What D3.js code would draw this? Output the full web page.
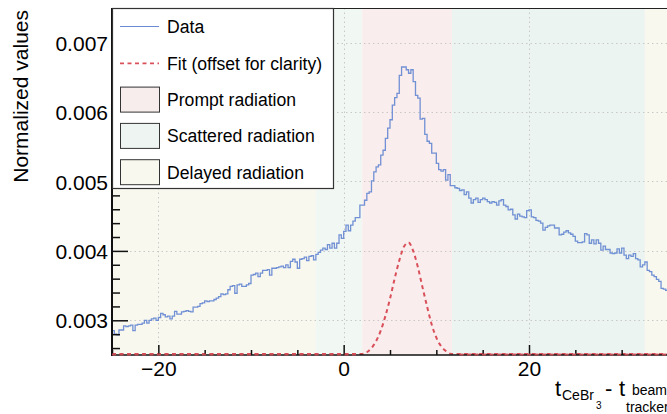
<!DOCTYPE html>
<html><head><meta charset="utf-8">
<script src="https://cdn.jsdelivr.net/npm/d3@7"></script>
<style>body{margin:0;background:#fff} svg{display:block} text{font-family:"Liberation Sans",Arial,Helvetica,sans-serif;fill:#000}</style>
</head><body><svg id="c" width="667" height="414"></svg>
<script>
// ---- data ----
const binLow = -25, binWidth = 0.25;
const counts = [
0.00285,0.00280,0.00279,0.00286,0.00286,0.00292,0.00291,0.00292,0.00293,0.00285,
0.00293,0.00294,0.00294,0.00296,0.00300,0.00296,0.00300,0.00302,0.00303,0.00300,
0.00304,0.00310,0.00308,0.00305,0.00306,0.00302,0.00306,0.00313,0.00309,0.00309,
0.00312,0.00313,0.00314,0.00313,0.00312,0.00319,0.00319,0.00320,0.00324,0.00325,
0.00328,0.00327,0.00328,0.00328,0.00330,0.00332,0.00334,0.00338,
0.00337,0.00338,0.00344,0.00349,0.00350,0.00339,0.00351,0.00352,0.00349,0.00349,
0.00351,0.00353,0.00365,0.00366,0.00368,0.00363,0.00368,0.00372,0.00372,0.00373,
0.00365,0.00375,0.00375,0.00376,0.00377,0.00378,0.00376,0.00380,0.00376,0.00385,
0.00388,0.00384,0.00375,0.00388,0.00389,0.00391,0.00386,0.00392,0.00393,0.00387,
0.00395,0.00398,0.00401,0.00404,0.00402,0.00409,0.00404,0.00411,
0.00404,0.00411,0.00423,0.00418,0.00428,0.00437,0.00429,0.00437,0.00443,0.00448,
0.00448,0.00466,0.00466,0.00473,0.00483,0.00485,0.00501,0.00514,0.00521,0.00524,
0.00538,0.00545,0.00562,0.00577,0.00589,0.00610,0.00621,0.00627,0.00653,0.00665,
0.00665,0.00661,0.00656,0.00661,0.00644,0.00624,0.00620,0.00590,0.00591,0.00568,
0.00558,0.00555,0.00541,0.00541,0.00526,0.00517,0.00515,0.00517,
0.00502,0.00510,0.00494,0.00494,0.00491,0.00490,0.00487,0.00488,0.00481,0.00485,
0.00476,0.00469,0.00474,0.00476,0.00470,0.00474,0.00476,0.00474,0.00471,0.00469,
0.00471,0.00470,0.00466,0.00472,0.00474,0.00466,0.00464,0.00459,0.00460,0.00452,
0.00446,0.00453,0.00450,0.00449,0.00448,0.00458,0.00459,0.00449,0.00448,0.00444,
0.00443,0.00440,0.00430,0.00434,0.00436,0.00437,0.00437,
0.00433,0.00433,0.00423,0.00424,0.00427,0.00429,0.00426,0.00424,0.00421,0.00414,
0.00412,0.00412,0.00413,0.00425,0.00423,0.00411,0.00416,0.00410,0.00416,0.00411,
0.00401,0.00407,0.00402,0.00402,0.00397,0.00396,0.00397,0.00403,0.00397,0.00404,
0.00394,0.00389,0.00394,0.00392,0.00396,0.00389,0.00387,0.00377,0.00380,0.00384,
0.00372,0.00370,0.00365,0.00363,0.00359,0.00356,0.00346,0.00345,0.00343
];
const fitX = [-25,1.5,2,2.5,3,3.5,4,4.5,5,5.5,6,6.5,7,7.5,8,8.5,9,9.5,10,10.5,11,11.5,12,12.5,35];
const fitY = [0.0025,0.00250,0.00251,0.00254,0.00260,0.00270,0.00285,0.00306,0.00331,0.00360,0.00386,0.00406,0.00412,0.00400,0.00377,0.00348,0.00320,0.00294,0.00275,0.00263,0.00256,0.00252,0.00251,0.0025,0.0025];
const regionKind  = ["delayed","scattered","prompt","scattered2","delayed"];
const regionStart = [-25, -3, 2, 11.7, 32.5];
const regionEnd   = [-3, 2, 11.7, 32.5, 35];
const xMajorTicks = [-20, 0, 20];
const xMinorTicks = [-25,-15,-10,-5,5,10,15,25,30,35];
const yMajorTicks = [0.003, 0.004, 0.005, 0.006, 0.007];
const yTickLabels = ["0.003","0.004","0.005","0.006","0.007"];
const yMinorTicks = [0.0026,0.0028,0.0032,0.0034,0.0036,0.0038,0.0042,0.0044,0.0046,0.0048,0.0052,0.0054,0.0056,0.0058,0.0062,0.0064,0.0066,0.0068,0.0072,0.0074];
const legendLabels = ["Data","Fit (offset for clarity)","Prompt radiation","Scattered radiation","Delayed radiation"];
const legendKinds  = ["line","dash","prompt","scattered","delayed"];

// ---- styles ----
const fills = {delayed:"#f8f8ef", scattered:"#f1f7f3", scattered2:"#ebf4f0", prompt:"#f9eded"};
const legendFills = {prompt:"#f8eded", scattered:"#eef4f1", delayed:"#f8f8ef"};
const dataColor = "#6a8bd3", fitColor = "#d9505a";

const svg = d3.select("#c");
const L = 112, R = 668, T = 8, B = 355;
const x = d3.scaleLinear().domain([-25, 35]).range([L, R]);
const y = d3.scaleLinear().domain([0.0025, 0.0075]).range([B, T]);

svg.append("defs").append("clipPath").attr("id","clip")
  .append("rect").attr("x",L).attr("y",T).attr("width",R-L).attr("height",B-T);
const plot = svg.append("g").attr("clip-path","url(#clip)");

// bands
plot.selectAll("rect.band").data(regionKind).join("rect").attr("class","band")
  .attr("x",(d,i)=>x(regionStart[i])).attr("width",(d,i)=>x(regionEnd[i])-x(regionStart[i]))
  .attr("y",T).attr("height",B-T).attr("fill",d=>fills[d]);

// grid
const gridStyle = g => g.attr("stroke","#c8c8c8").attr("stroke-width",1).attr("stroke-dasharray","1.5,3");
plot.selectAll("line.gy").data(yMajorTicks).join("line").attr("class","gy")
  .attr("x1",L).attr("x2",R).attr("y1",d=>Math.round(y(d))+0.5).attr("y2",d=>Math.round(y(d))+0.5).call(gridStyle);
plot.selectAll("line.gx").data(xMajorTicks).join("line").attr("class","gx")
  .attr("y1",T).attr("y2",B).attr("x1",d=>Math.round(x(d))+0.5).attr("x2",d=>Math.round(x(d))+0.5).call(gridStyle);

// histogram
const pts = counts.map((v,i)=>[binLow+i*binWidth, v]);
pts.push([binLow+counts.length*binWidth, counts[counts.length-1]]);
plot.append("path").datum(pts)
  .attr("d", d3.line().x(d=>x(d[0])).y(d=>y(d[1])).curve(d3.curveStepAfter))
  .attr("fill","none").attr("stroke",dataColor).attr("stroke-width",1.3).attr("stroke-opacity",0.95);

// fit
const fitPts = fitX.map((v,i)=>[v, fitY[i]]);
plot.append("path").datum(fitPts)
  .attr("d", d3.line().x(d=>x(d[0])).y(d=>Math.min(y(d[1]), B-1)).curve(d3.curveMonotoneX))
  .attr("fill","none").attr("stroke",fitColor).attr("stroke-width",2).attr("stroke-dasharray","4,3.5");

// axes
const ax = svg.append("g");
ax.append("line").attr("x1",L).attr("x2",667).attr("y1",T+0.5).attr("y2",T+0.5).attr("stroke","#222").attr("stroke-width",1);

const xAxis = d3.axisBottom(x).tickValues(xMajorTicks).tickSize(-10).tickPadding(6)
  .tickFormat(d=>d<0 ? "\u2212"+Math.abs(d) : String(d));
const gx = ax.append("g").attr("transform",`translate(0,${B})`).call(xAxis);
gx.select(".domain").remove();
gx.selectAll("line").attr("stroke","#111").attr("stroke-width",1.5);
gx.selectAll("text").attr("font-size",21).attr("fill","#000");
const gxm = ax.append("g").attr("transform",`translate(0,${B})`).call(d3.axisBottom(x).tickValues(xMinorTicks).tickSize(-5).tickFormat(""));
gxm.select(".domain").remove();
gxm.selectAll("line").attr("stroke","#111").attr("stroke-width",1.5);

const yAxis = d3.axisLeft(y).tickValues(yMajorTicks).tickSize(-16).tickPadding(4)
  .tickFormat((d,i)=>yTickLabels[i]);
const gy = ax.append("g").attr("transform",`translate(${L},0)`).call(yAxis);
gy.select(".domain").remove();
gy.selectAll("line").attr("stroke","#111").attr("stroke-width",1.5);
gy.selectAll("text").attr("font-size",21).attr("fill","#000").attr("dy","0.36em");
const gym = ax.append("g").attr("transform",`translate(${L},0)`).call(d3.axisLeft(y).tickValues(yMinorTicks).tickSize(-8).tickFormat(""));
gym.select(".domain").remove();
gym.selectAll("line").attr("stroke","#111").attr("stroke-width",1.5);

ax.append("line").attr("x1",L).attr("x2",L).attr("y1",T).attr("y2",B+1).attr("stroke","#111").attr("stroke-width",2);
ax.append("line").attr("x1",L).attr("x2",667).attr("y1",B).attr("y2",B).attr("stroke","#111").attr("stroke-width",1.5);
// fit baseline dashes over axis
svg.append("line").attr("x1",L).attr("x2",x(fitX[1])).attr("y1",B-0.5).attr("y2",B-0.5)
  .attr("stroke",fitColor).attr("stroke-width",2).attr("stroke-dasharray","4,3.5").attr("opacity",0.85);
svg.append("line").attr("x1",x(fitX[fitX.length-2])).attr("x2",667).attr("y1",B-0.5).attr("y2",B-0.5)
  .attr("stroke",fitColor).attr("stroke-width",2).attr("stroke-dasharray","4,3.5").attr("opacity",0.85);

// axis titles
svg.append("text").attr("transform","translate(28,10) rotate(-90)").attr("text-anchor","end")
  .attr("font-size",21).text("Normalized values");
const xt = svg.append("g");
xt.append("text").attr("x",555).attr("y",396).attr("font-size",22).text("t");
xt.append("text").attr("x",562).attr("y",400).attr("font-size",14).text("CeBr");
xt.append("text").attr("x",596).attr("y",409).attr("font-size",10).text("3");
xt.append("text").attr("x",605).attr("y",396).attr("font-size",22).text("-");
xt.append("text").attr("x",619).attr("y",396).attr("font-size",22).text("t");
xt.append("text").attr("x",632).attr("y",395).attr("font-size",14).text("beam");
xt.append("text").attr("x",626).attr("y",412).attr("font-size",14).text("tracker");

// legend
const lg = svg.append("g");
lg.append("rect").attr("x",112.5).attr("y",8.5).attr("width",221).attr("height",180)
  .attr("fill","#fff").attr("stroke","#333").attr("stroke-width",1.2);
const rowY = i => 27 + i*36.3;
legendKinds.forEach((k,i)=>{
  const cy = rowY(i);
  if (k==="line") {
    lg.append("line").attr("x1",120).attr("x2",159).attr("y1",cy-0.5).attr("y2",cy-0.5).attr("stroke",dataColor).attr("stroke-width",1.2);
  } else if (k==="dash") {
    lg.append("line").attr("x1",120).attr("x2",159).attr("y1",cy).attr("y2",cy).attr("stroke",fitColor).attr("stroke-width",1.8).attr("stroke-dasharray","4,3.5");
  } else {
    lg.append("rect").attr("x",120.5).attr("y",cy-12.5).attr("width",39).attr("height",25)
      .attr("fill",legendFills[k]).attr("stroke","#333").attr("stroke-width",1);
  }
  lg.append("text").attr("x",167).attr("y",cy).attr("dy","0.36em").attr("font-size",17.6).text(legendLabels[i]);
});
</script></body></html>
